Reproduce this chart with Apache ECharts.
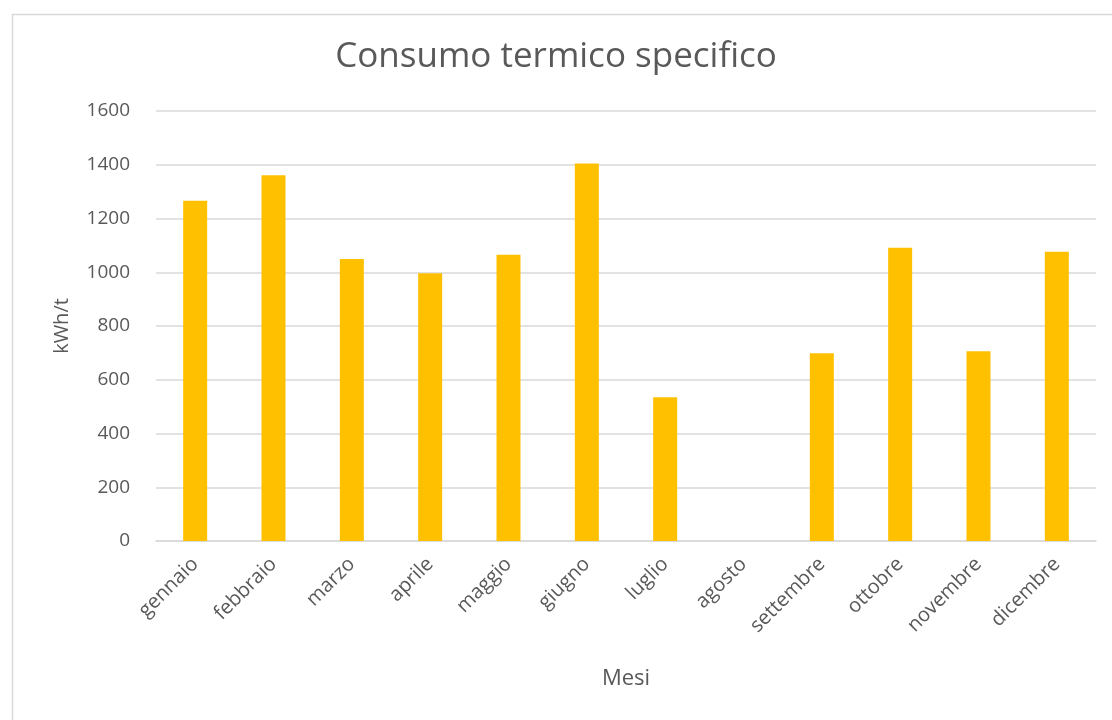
<!DOCTYPE html>
<html>
<head>
<meta charset="utf-8">
<script src="https://cdn.jsdelivr.net/npm/echarts@6/dist/echarts.min.js"></script>
<style>
  html, body { margin: 0; padding: 0; background: #fff; }
  #chart { width: 1112px; height: 720px; }
</style>
</head>
<body>
<div id="chart"></div>
<script>
// Monthly specific thermal consumption (kWh per tonne)
const mesi = ['gennaio', 'febbraio', 'marzo', 'aprile', 'maggio', 'giugno',
              'luglio', 'agosto', 'settembre', 'ottobre', 'novembre', 'dicembre'];
const consumo = [1266, 1361, 1049, 996, 1065, 1405, 535, 0, 699, 1091, 706, 1076];
const yTicks = [0, 200, 400, 600, 800, 1000, 1200, 1400, 1600];

const textColor = '#595959';
const gridColor = '#d9d9d9';
const fontFamily = '"Open Sans", "Noto Sans", sans-serif';

const chart = echarts.init(document.getElementById('chart'), null, { renderer: 'canvas' });

chart.setOption({
  backgroundColor: '#ffffff',
  animation: false,
  graphic: [{
    type: 'rect',
    left: 10, top: 12,
    shape: { width: 1120, height: 720 },
    style: { fill: 'none', stroke: '#d9d9d9', lineWidth: 1.5 },
    silent: true
  }],
  title: {
    text: 'Consumo termico specifico',
    left: 'center',
    top: 35,
    textStyle: { color: textColor, fontSize: 35, fontWeight: 'normal', fontFamily: fontFamily }
  },
  grid: { left: 156, right: 16, top: 111, bottom: 179, containLabel: false },
  xAxis: {
    type: 'category',
    data: mesi,
    name: 'Mesi',
    nameLocation: 'middle',
    nameGap: 127,
    nameTextStyle: { color: textColor, fontSize: 22, fontFamily: fontFamily },
    axisLine: { lineStyle: { color: gridColor, width: 1.5 } },
    axisTick: { show: false },
    axisLabel: {
      rotate: 45,
      interval: 0,
      margin: 20,
      color: textColor,
      fontSize: 20,
      fontFamily: fontFamily
    }
  },
  yAxis: {
    type: 'value',
    min: yTicks[0],
    max: yTicks[yTicks.length - 1],
    interval: yTicks[1] - yTicks[0],
    name: 'kWh/t',
    nameLocation: 'middle',
    nameGap: 84,
    nameRotate: 90,
    nameTextStyle: { color: textColor, fontSize: 20, fontFamily: fontFamily },
    axisLine: { show: false },
    axisTick: { show: false },
    axisLabel: {
      color: textColor, fontSize: 19, margin: 26, fontFamily: fontFamily,
      formatter: (v) => String(v)
    },
    splitLine: { lineStyle: { color: gridColor, width: 1.5 } }
  },
  series: [{
    type: 'bar',
    data: consumo,
    barWidth: 24,
    itemStyle: { color: '#FFC000' }
  }]
});
</script>
</body>
</html>
